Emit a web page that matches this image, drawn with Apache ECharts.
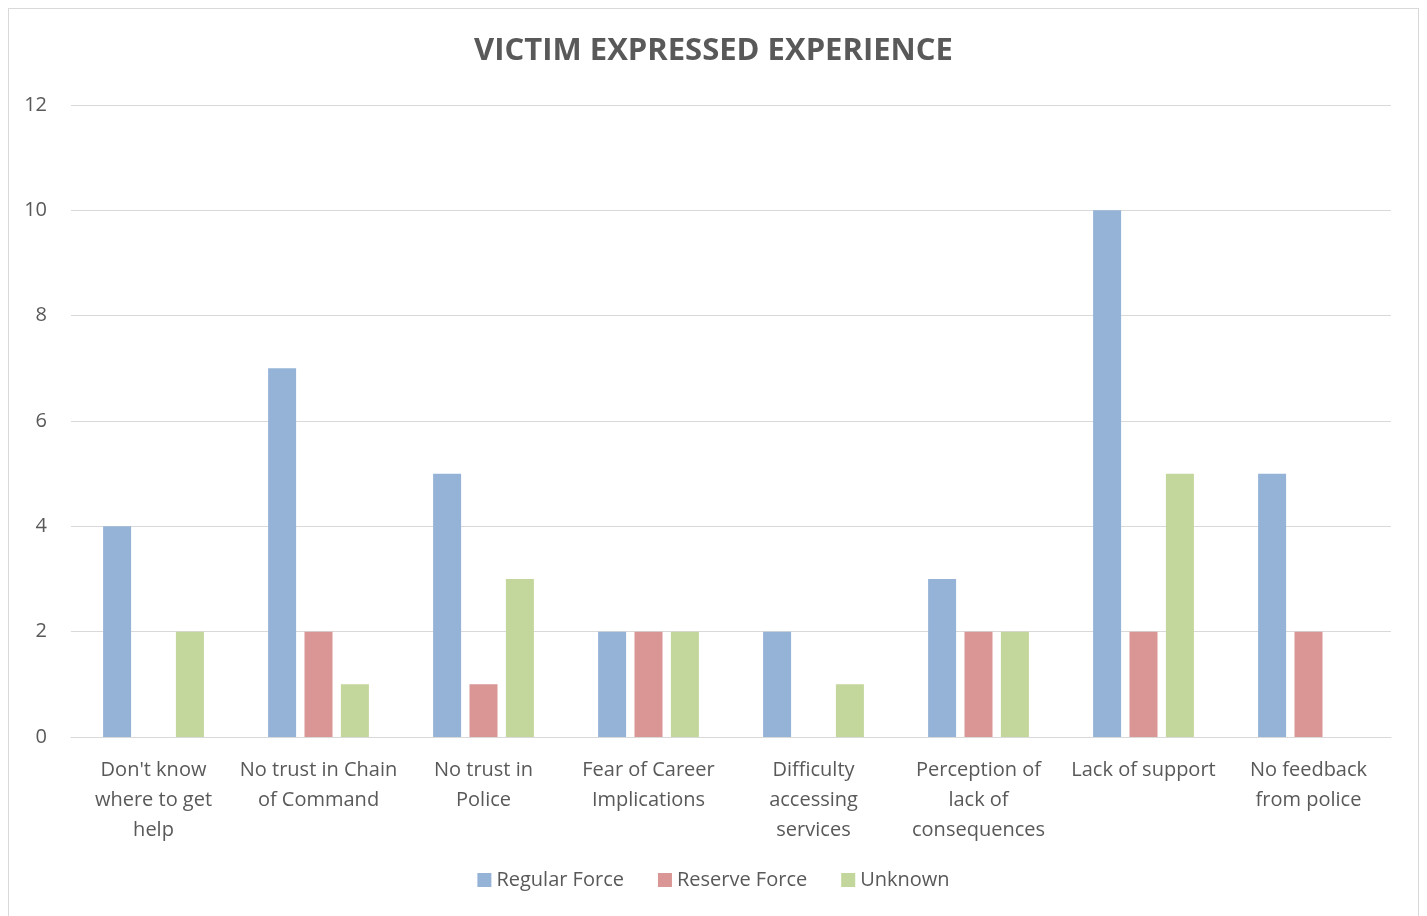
<!DOCTYPE html>
<html>
<head>
<meta charset="utf-8">
<script src="https://cdn.jsdelivr.net/npm/echarts@6/dist/echarts.min.js"></script>
<style>
  html, body { margin: 0; padding: 0; background: #fff; }
  #frame { position: absolute; left: 8px; top: 8px; width: 1411px; height: 920px; border: 1px solid #d9d9d9; box-sizing: border-box; }
  #chart { position: absolute; left: 0; top: 0; width: 1427px; height: 916px; }
</style>
</head>
<body>
<div id="frame"></div>
<div id="chart"></div>
<script>
// categories and series
const categories = [
  "Don't know\nwhere to get\nhelp",
  'No trust in Chain\nof Command',
  'No trust in\nPolice',
  'Fear of Career\nImplications',
  'Difficulty\naccessing\nservices',
  'Perception of\nlack of\nconsequences',
  'Lack of support',
  'No feedback\nfrom police'
]
const regularForce = [4, 7, 5, 2, 2, 3, 10, 5]
const reserveForce = [null, 2, 1, 2, null, 2, 2, 2]
const unknown = [2, 1, 3, 2, 1, 2, 5, null]

const textColor = '#595959'
const font = "'Open Sans', 'Noto Sans', sans-serif"

const myChart = echarts.init(document.getElementById('chart'))

const bar = (name, data, color) => ({
  name,
  type: 'bar',
  data,
  barWidth: 28,
  barGap: '30%',
  itemStyle: { color }
})

myChart.setOption({
  animation: false,
  textStyle: { fontFamily: font },
  title: {
    text: 'VICTIM EXPRESSED EXPERIENCE',
    left: 'center',
    top: 31,
    textStyle: { fontSize: 31, fontWeight: 'bold', color: textColor, fontFamily: font }
  },
  legend: {
    bottom: 21,
    left: 'center',
    itemWidth: 14,
    itemHeight: 14,
    itemGap: 34,
    icon: 'rect',
    textStyle: { fontSize: 20, color: textColor, fontFamily: font }
  },
  grid: { left: 71, right: 36, top: 105, bottom: 179, containLabel: false },
  xAxis: {
    type: 'category',
    data: categories,
    axisLine: { lineStyle: { color: '#d9d9d9', width: 1 } },
    axisTick: { show: false },
    axisLabel: { interval: 0, color: textColor, fontSize: 20, lineHeight: 30, margin: 18, fontFamily: font }
  },
  yAxis: {
    type: 'value',
    min: 0,
    max: 12,
    interval: 2,
    axisLine: { show: false },
    axisTick: { show: false },
    axisLabel: { color: textColor, fontSize: 20, margin: 24, fontFamily: font },
    splitLine: { lineStyle: { color: '#d9d9d9', width: 1 } }
  },
  series: [
    bar('Regular Force', regularForce, '#95b3d7'),
    bar('Reserve Force', reserveForce, '#d99694'),
    bar('Unknown', unknown, '#c3d69b')
  ]
})
</script>
</body>
</html>
